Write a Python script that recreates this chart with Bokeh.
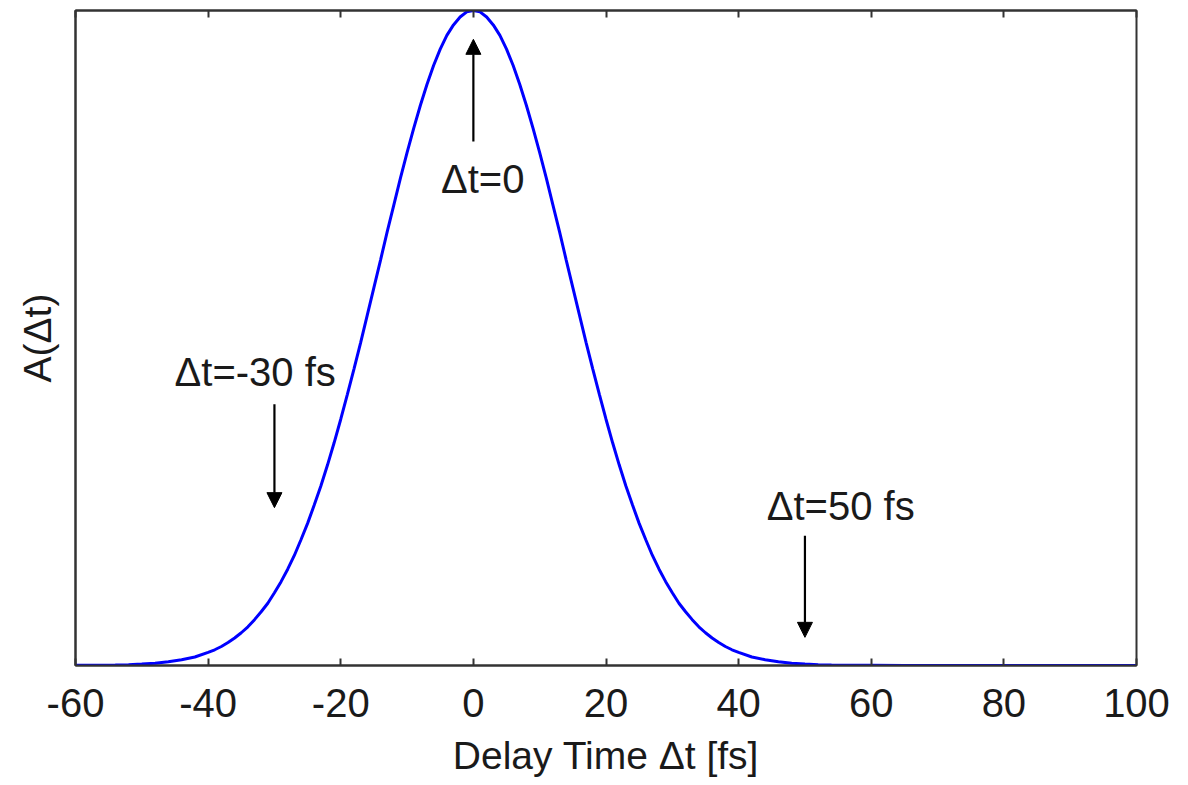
from bokeh.plotting import figure
from bokeh.models import (Range1d, LinearAxis, FixedTicker, ColumnDataSource,
                          Arrow, NormalHead, LabelSet)
from bokeh.core.properties import value
from bokeh.embed import file_html
from bokeh.resources import INLINE

# ---- data ----
delay_fs = [-60, -58, -56, -54, -52, -50, -48, -46, -44, -42,
            -40, -39, -38, -37, -36, -35, -34, -33, -32, -31,
            -30, -29, -28, -27, -26, -25, -24, -23, -22, -21,
            -20, -19, -18, -17, -16, -15, -14, -13, -12, -11,
            -10, -9, -8, -7, -6, -5, -4, -3, -2, -1,
            0, 1, 2, 3, 4, 5, 6, 7, 8, 9,
            10, 11, 12, 13, 14, 15, 16, 17, 18, 19,
            20, 21, 22, 23, 24, 25, 26, 27, 28, 29,
            30, 31, 32, 33, 34, 35, 36, 37, 38, 39,
            40, 42, 44, 46, 48, 50, 52, 54, 56, 58,
            60, 65, 70, 80, 90, 100]
amplitude = [0.0002, 0.0003, 0.0005, 0.0008, 0.0013, 0.0022, 0.0036, 0.0057, 0.0088, 0.013,
             0.020, 0.024, 0.029, 0.035, 0.042, 0.050, 0.059, 0.070, 0.082, 0.095,
             0.111, 0.128, 0.147, 0.168, 0.192, 0.217, 0.245, 0.274, 0.306, 0.340,
             0.376, 0.414, 0.453, 0.493, 0.535, 0.577, 0.619, 0.662, 0.703, 0.744,
             0.783, 0.820, 0.855, 0.887, 0.916, 0.941, 0.962, 0.978, 0.990, 0.998,
             1.000, 0.998, 0.990, 0.978, 0.962, 0.941, 0.916, 0.887, 0.855, 0.820,
             0.783, 0.744, 0.703, 0.662, 0.619, 0.577, 0.535, 0.493, 0.453, 0.414,
             0.376, 0.340, 0.306, 0.274, 0.245, 0.217, 0.192, 0.168, 0.147, 0.128,
             0.111, 0.095, 0.082, 0.070, 0.059, 0.050, 0.042, 0.035, 0.029, 0.024,
             0.020, 0.013, 0.0088, 0.0057, 0.0036, 0.0022, 0.0013, 0.0008, 0.0005, 0.0003,
             0.0002, 0.0, 0.0, 0.0, 0.0, 0.0]

x_ticks = [-60, -40, -20, 0, 20, 40, 60, 80, 100]
x_tick_labels = ["-60", "-40", "-20", "0", "20", "40", "60", "80", "100"]

# annotations (data coordinates)
arrow_x = [0, -30, 50]
arrow_y_start = [0.800, 0.399, 0.198]
arrow_y_end = [0.956, 0.241, 0.043]
label_text = ["\u0394t=0", "\u0394t=-30 fs", "\u0394t=50 fs"]
label_x = [1.4, -32.9, 55.4]
label_y = [0.742, 0.448, 0.244]

FONT = "Liberation Sans"
AX = "#333333"
TXT = "#1a1a1a"

p = figure(width=1188, height=785, output_backend="svg", toolbar_location=None,
           x_range=Range1d(-60, 100), y_range=Range1d(0, 1),
           min_border_left=75, min_border_right=52, min_border_top=10, min_border_bottom=120,
           background_fill_color="white", border_fill_color="white")
p.grid.visible = False
p.outline_line_color = AX
p.outline_line_width = 2

p.line(delay_fs, amplitude, line_color="#0000ff", line_width=3)

# x axis (below)
xa = p.xaxis[0]
xa.ticker = FixedTicker(ticks=x_ticks)
xa.major_label_overrides = {t: s for t, s in zip(x_ticks, x_tick_labels)}
xa.minor_tick_line_color = None
xa.major_tick_in = 7
xa.major_tick_out = 0
xa.major_tick_line_color = AX
xa.major_tick_line_width = 2
xa.axis_line_color = AX
xa.axis_line_width = 2
xa.major_label_text_font = FONT
xa.major_label_text_font_size = "40px"
xa.major_label_text_color = TXT
xa.major_label_standoff = 23
xa.axis_label = "Delay Time \u0394t [fs]"
xa.axis_label_text_font = FONT
xa.axis_label_text_font_size = "39px"
xa.axis_label_text_font_style = "normal"
xa.axis_label_text_color = TXT
xa.axis_label_standoff = 14

# y axis (left) - label only
ya = p.yaxis[0]
ya.ticker = FixedTicker(ticks=[])
ya.minor_tick_line_color = None
ya.major_tick_line_color = None
ya.major_label_standoff = 0
ya.axis_line_color = AX
ya.axis_line_width = 2
ya.axis_label = "A(\u0394t)"
ya.axis_label_text_font = FONT
ya.axis_label_text_font_size = "39px"
ya.axis_label_text_font_style = "normal"
ya.axis_label_text_color = TXT
ya.axis_label_standoff = 17

# top axis with inward ticks, no labels
top = LinearAxis(ticker=FixedTicker(ticks=x_ticks), major_label_text_font_size="0px",
                 major_label_text_color=None,
                 major_label_standoff=0, major_tick_in=7, major_tick_out=0,
                 major_tick_line_color=AX, major_tick_line_width=2,
                 minor_tick_line_color=None, axis_line_color=AX, axis_line_width=2)
p.add_layout(top, "above")

arrows = ColumnDataSource(dict(x=arrow_x, y0=arrow_y_start, y1=arrow_y_end))
p.add_layout(Arrow(end=NormalHead(size=15, fill_color="black", line_color="black", line_width=1),
                   x_start="x", y_start="y0", x_end="x", y_end="y1",
                   line_color="black", line_width=2.2, source=arrows))

labels = ColumnDataSource(dict(x=label_x, y=label_y, t=label_text))
p.add_layout(LabelSet(x="x", y="y", text="t", source=labels,
                      text_align="center", text_baseline="middle",
                      text_font=value(FONT), text_font_size=value("40px"), text_color=TXT))

open("out.html", "w").write(file_html(p, INLINE))
